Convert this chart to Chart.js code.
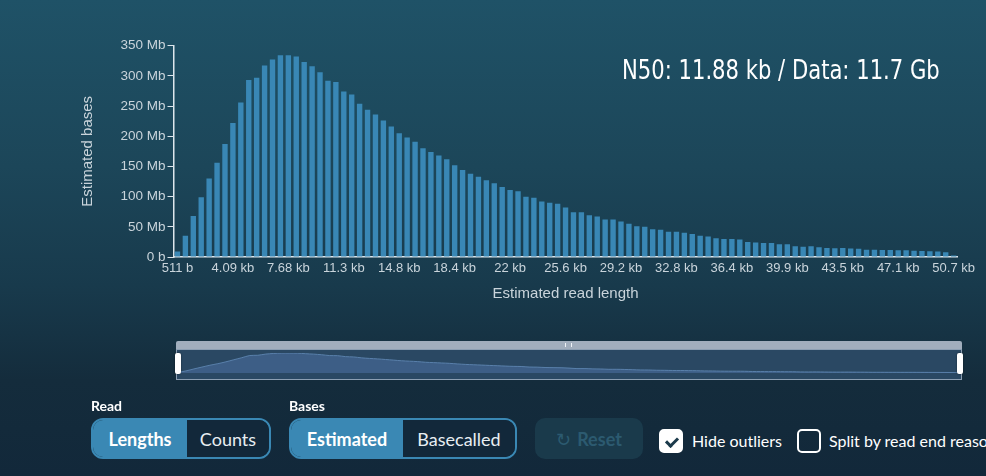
<!DOCTYPE html>
<html>
<head>
<meta charset="utf-8">
<script src="https://cdn.jsdelivr.net/npm/chart.js@4.4.1/dist/chart.umd.min.js"></script>
<style>
  body {
    margin: 0;
    width: 986px;
    height: 476px;
    overflow: hidden;
    position: relative;
    font-family: Lato, 'Noto Sans', sans-serif;
    background: linear-gradient(180deg, #1f5267 0%, #1c4659 35%, #183a4c 60%, #142c3c 80%, #12283a 100%);
  }
  #lengthChart { position: absolute; left: 0; top: 0; }
  #n50 {
    position: absolute; left: 622px; top: 54px;
    color: #fff; font-family: 'DejaVu Sans Condensed', 'DejaVu Sans', sans-serif;
    font-stretch: condensed; font-size: 27px; white-space: nowrap;
    transform: scaleX(0.87); transform-origin: left top;
  }
  #brush { position: absolute; left: 176px; top: 341px; width: 786px; height: 39px; }
  #brush .grip {
    position: absolute; left: 0; right: 0; top: 0; height: 8px;
    background: #a1aebd; border-radius: 2px 2px 0 0;
  }
  #brush .grip span {
    position: absolute; left: 389px; top: 2px; width: 5px; height: 4px;
    border-left: 1px solid #eef2f6; border-right: 1px solid #eef2f6;
  }
  #brush .box {
    position: absolute; left: 0; right: 0; top: 8px; bottom: 0;
    border: 1px solid #8c9fb3; background: #2a4863; box-sizing: border-box;
  }
  #brushChart { position: absolute; left: 0; top: 0; }
  .handle {
    position: absolute; top: 12px; width: 6px; height: 21px;
    background: #fff; border-radius: 2px; box-shadow: 0 0 2px rgba(0,0,0,0.5);
  }
  .label { position: absolute; top: 397px; color: #fff; font-weight: 700; font-size: 14px; }
  .seg {
    position: absolute; top: 418px; height: 41px; box-sizing: border-box;
    border: 2px solid #3a88b4; border-radius: 12px; overflow: hidden; display: flex;
    font-size: 18px; color: #fff;
  }
  .seg div { display: flex; align-items: center; justify-content: center; }
  .seg .on { background: #3a88b4; font-weight: 700; }
  .seg .off { background: #12283a; color: #e8eef2; }
  #reset {
    position: absolute; left: 535px; top: 418px; width: 108px; height: 41px;
    background: #1a3a4b; border-radius: 10px; color: #2c5a70;
    font-size: 18px; font-weight: 700; display: flex; align-items: center; justify-content: center;
  }
  .check {
    position: absolute; top: 429px; width: 24px; height: 24px; box-sizing: border-box;
    border-radius: 5px; border: 2px solid #fff;
  }
  .check.on { background: #fff; }
  .check.on::after {
    content: ''; position: absolute; left: 7px; top: 4px; width: 5px; height: 9px;
    border: solid #1b3a4b; border-width: 0 3px 3px 0; transform: rotate(45deg);
  }
  .ctext { position: absolute; top: 431px; color: #fff; font-size: 16px; white-space: nowrap; }
</style>
</head>
<body>
<canvas id="lengthChart" width="986" height="310"></canvas>
<div id="n50">N50: 11.88 kb / Data: 11.7 Gb</div>

<div id="brush">
  <div class="grip"><span></span></div>
  <div class="box"><canvas id="brushChart" width="784" height="29"></canvas></div>
  <div class="handle" style="left:-1px"></div>
  <div class="handle" style="right:-1px"></div>
</div>

<div class="label" style="left:91px">Read</div>
<div class="seg" style="left:91px; width:180px">
  <div class="on" style="width:94px">Lengths</div>
  <div class="off" style="flex:1">Counts</div>
</div>
<div class="label" style="left:289px">Bases</div>
<div class="seg" style="left:289px; width:228px">
  <div class="on" style="width:112px">Estimated</div>
  <div class="off" style="flex:1">Basecalled</div>
</div>
<div id="reset"><span style="font-weight:400; margin-right:6px">&#x21bb;</span>Reset</div>
<div class="check on" style="left:659px"></div>
<div class="ctext" style="left:692px">Hide outliers</div>
<div class="check" style="left:797px"></div>
<div class="ctext" style="left:829px">Split by read end reason</div>

<script>
// read length bins start at 511 b, 512 b wide
const firstBin = 511;
const binWidth = 512;

// estimated bases per bin, in Mb
const estimatedBases = [
  9, 35, 68, 99, 130, 156, 187, 222, 256, 293,
  297, 317, 327, 334, 334, 332, 323, 316, 306, 292,
  290, 274, 269, 254, 244, 236, 226, 216, 205, 198,
  191, 180, 174, 168, 162, 152, 144, 138, 133, 127,
  122, 116, 111, 109, 100, 98, 92, 90, 88, 82,
  74, 74, 69, 67, 62, 62, 59, 55, 51, 50,
  46, 45, 42, 42, 40, 38, 35, 34, 31, 30,
  30, 29, 25, 24, 23, 23, 21, 21, 18, 17,
  18, 16, 15, 14.5, 15, 14, 13.5, 12, 12, 11.5,
  11.5, 11, 11, 10.5, 10, 9.5, 9, 8, 2.5
];

// x labels shown every 7 bins
const tickLabels = ['511 b', '4.09 kb', '7.68 kb', '11.3 kb', '14.8 kb', '18.4 kb', '22 kb',
  '25.6 kb', '29.2 kb', '32.8 kb', '36.4 kb', '39.9 kb', '43.5 kb', '47.1 kb', '50.7 kb'];
const tickEvery = 7;

const binLabels = estimatedBases.map((v, i) => firstBin + i * binWidth);

const axisColor = '#dde6ec';
const textColor = '#c9d4db';
const sans = "'Liberation Sans', Arial, sans-serif";

new Chart(document.getElementById('lengthChart'), {
  type: 'bar',
  data: {
    labels: binLabels,
    datasets: [{
      label: 'Estimated bases',
      data: estimatedBases,
      backgroundColor: '#3987b5',
      barPercentage: 0.68,
      categoryPercentage: 1
    }]
  },
  options: {
    responsive: false,
    animation: false,
    devicePixelRatio: 1,
    layout: { padding: { top: 45.7, right: 28.4, left: 0, bottom: 0 } },
    plugins: { legend: { display: false }, tooltip: { enabled: false } },
    scales: {
      x: {
        offset: true,
        grid: { display: false, drawTicks: false },
        border: { display: true, color: axisColor, width: 1.5 },
        ticks: {
          autoSkip: false, maxRotation: 0, minRotation: 0, padding: 4,
          color: textColor, font: { family: sans, size: 13 },
          callback: (v, i) => i % tickEvery === 0 ? tickLabels[i / tickEvery] : ''
        },
        title: {
          display: true, text: 'Estimated read length', color: textColor,
          font: { family: sans, size: 15 }, padding: { top: 0, bottom: 7 }
        },
        afterFit: s => { s.height = 53; }
      },
      y: {
        min: 0, max: 350,
        grid: { drawOnChartArea: false, drawTicks: true, tickLength: 6, color: axisColor },
        border: { display: true, color: axisColor, width: 1.5 },
        ticks: {
          stepSize: 50, padding: 2, color: textColor, font: { family: sans, size: 13.5 },
          callback: v => v === 0 ? '0 b' : v + ' Mb'
        },
        title: {
          display: true, text: 'Estimated bases', color: textColor,
          font: { family: sans, size: 15 }, padding: { top: 79, bottom: 0 }
        },
        afterFit: s => { s.width = 173.5; }
      }
    }
  }
});

// overview in the range brush
new Chart(document.getElementById('brushChart'), {
  type: 'line',
  data: {
    labels: binLabels,
    datasets: [{
      data: estimatedBases,
      fill: 'origin',
      backgroundColor: '#3d5e86',
      borderColor: '#5a80ab',
      borderWidth: 1,
      pointRadius: 0,
      tension: 0.3
    }]
  },
  options: {
    responsive: false,
    animation: false,
    devicePixelRatio: 1,
    layout: { padding: { top: 3, bottom: 6, left: 1, right: 1 } },
    plugins: { legend: { display: false }, tooltip: { enabled: false } },
    scales: {
      x: { display: false },
      y: { display: false, min: 0, max: 335 }
    }
  }
});
</script>
</body>
</html>
